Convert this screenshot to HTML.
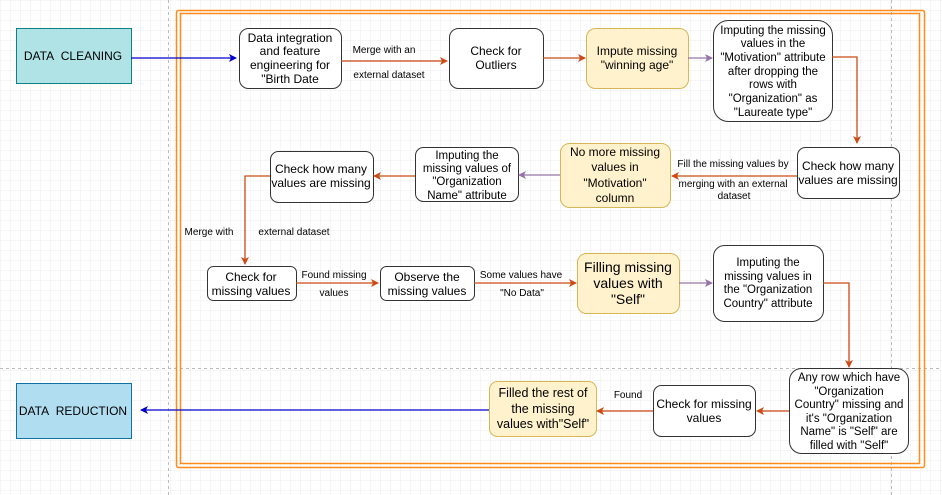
<!DOCTYPE html>
<html><head><meta charset="utf-8">
<style>
html,body{margin:0;padding:0;background:#fff;}
svg{display:block;font-family:"Liberation Sans",Arial,sans-serif;}
</style></head>
<body>
<svg width="942" height="495" viewBox="0 0 942 495" xmlns="http://www.w3.org/2000/svg">
<defs>
<pattern id="g" width="10" height="10" patternUnits="userSpaceOnUse">
<path d="M10 0H0V10" fill="none" stroke="#ececec" stroke-width="1"/>
</pattern>
<marker id="ao" markerWidth="8" markerHeight="8" refX="7" refY="4" orient="auto" markerUnits="userSpaceOnUse"><path d="M0,0 L8,4 L0,8 L2,4z" fill="#cc4a14"/></marker>
<marker id="ap" markerWidth="8" markerHeight="8" refX="7" refY="4" orient="auto" markerUnits="userSpaceOnUse"><path d="M0,0 L8,4 L0,8 L2,4z" fill="#9673a6"/></marker>
<marker id="ab" markerWidth="8" markerHeight="8" refX="7" refY="4" orient="auto" markerUnits="userSpaceOnUse"><path d="M0,0 L8,4 L0,8 L2,4z" fill="#0000cc"/></marker>
</defs>
<rect width="942" height="495" fill="url(#g)"/>
<line x1="168.5" y1="0" x2="168.5" y2="495" stroke="#bbb" stroke-dasharray="3,3"/>
<line x1="891.5" y1="0" x2="891.5" y2="495" stroke="#bbb" stroke-dasharray="3,3"/>
<line x1="0" y1="368.5" x2="942" y2="368.5" stroke="#bbb" stroke-dasharray="3,3"/>
<rect x="176.5" y="10.5" width="748" height="457" fill="none" stroke="#ff8c1a" stroke-width="1.5" rx="2"/>
<rect x="180.5" y="13.5" width="739" height="450" fill="none" stroke="#ff8c1a" stroke-width="1.5"/>

<g font-size="12" fill="#000" text-anchor="middle">
<rect x="16.5" y="28.5" width="115" height="55" fill="#b0e3e6" stroke="#0e8088"/>
<text x="73" y="60">DATA&#160; CLEANING</text>
<rect x="16.5" y="383.5" width="115" height="55" fill="#b1ddf0" stroke="#10739e"/>
<text x="73" y="415">DATA&#160; REDUCTION</text>

<g stroke="#333" stroke-width="1">
<rect x="239.5" y="28.5" width="102" height="60" rx="9" fill="#fff"/>
<rect x="449.5" y="28.5" width="94" height="60" rx="9" fill="#fff"/>
<rect x="586.5" y="28.5" width="102" height="60" rx="9" fill="#fff2cc" stroke="#d6b656"/>
<rect x="713.5" y="20.5" width="119" height="101" rx="15" fill="#fff"/>
<rect x="797.5" y="147.5" width="102" height="51" rx="8" fill="#fff"/>
<rect x="560.5" y="143.5" width="110" height="64" rx="9" fill="#fff2cc" stroke="#d6b656"/>
<rect x="415.5" y="147.5" width="103" height="54" rx="8" fill="#fff"/>
<rect x="270.5" y="151.5" width="103" height="51" rx="8" fill="#fff"/>
<rect x="207.5" y="266.5" width="89" height="34" rx="6" fill="#fff"/>
<rect x="380.5" y="266.5" width="94" height="34" rx="6" fill="#fff"/>
<rect x="577.5" y="253.5" width="102" height="60" rx="9" fill="#fff2cc" stroke="#d6b656"/>
<rect x="713.5" y="245.5" width="110" height="76" rx="11" fill="#fff"/>
<rect x="789.5" y="368.5" width="119" height="85" rx="12" fill="#fff"/>
<rect x="653.5" y="385.5" width="102" height="51" rx="8" fill="#fff"/>
<rect x="489.5" y="381.5" width="107" height="55" rx="8" fill="#fff2cc" stroke="#d6b656"/>
</g>

<text x="290" y="42">Data integration</text>
<text x="290" y="55">and feature</text>
<text x="290" y="69">engineering for</text>
<text x="290" y="83">"Birth Date</text>
<text x="496" y="55">Check for</text>
<text x="496" y="69">Outliers</text>
<text x="637" y="55">Impute missing</text>
<text x="637" y="69">"winning age"</text>
<g font-size="11.5">
<text x="773" y="34">Imputing the missing</text>
<text x="773" y="47">values in the</text>
<text x="773" y="61">"Motivation" attribute</text>
<text x="773" y="75">after dropping the</text>
<text x="773" y="88">rows with</text>
<text x="773" y="102">"Organization" as</text>
<text x="773" y="116">"Laureate type"</text>
</g>
<text x="848" y="170">Check how many</text>
<text x="848" y="184">values are missing</text>
<text x="615" y="156">No more missing</text>
<text x="615" y="171">values in</text>
<text x="615" y="187">"Motivation"</text>
<text x="615" y="202">column</text>
<g font-size="11.5">
<text x="467" y="159">Imputing the</text>
<text x="467" y="172">missing values of</text>
<text x="467" y="185">"Organization</text>
<text x="467" y="199">Name" attribute</text>
</g>
<text x="321" y="173">Check how many</text>
<text x="321" y="187">values are missing</text>
<text x="251" y="281">Check for</text>
<text x="251" y="295">missing values</text>
<text x="427" y="281">Observe the</text>
<text x="427" y="295">missing values</text>
<g font-size="14">
<text x="628" y="272">Filling missing</text>
<text x="628" y="288">values with</text>
<text x="628" y="304">"Self"</text>
</g>
<g font-size="11.5">
<text x="768" y="266">Imputing the</text>
<text x="768" y="280">missing values in</text>
<text x="768" y="293">the "Organization</text>
<text x="768" y="307">Country" attribute</text>
<text x="849" y="381">Any row which have</text>
<text x="849" y="395">"Organization</text>
<text x="849" y="408">Country" missing and</text>
<text x="849" y="422">it's "Organization</text>
<text x="849" y="435">Name" is "Self" are</text>
<text x="849" y="449">filled with "Self"</text>
</g>
<text x="704" y="408">Check for missing</text>
<text x="704" y="422">values</text>
<g font-size="12.5">
<text x="543" y="397">Filled the rest of</text>
<text x="543" y="413">the missing</text>
<text x="543" y="428">values with"Self"</text>
</g>

<g font-size="10">
<text x="384" y="53">Merge with an</text>
<text x="389" y="78">external dataset</text>
<text x="733" y="167">Fill the missing values by</text>
<text x="733" y="187">merging with an external</text>
<text x="734" y="199">dataset</text>
<text x="209" y="235">Merge with</text>
<text x="294" y="235">external dataset</text>
<text x="334" y="278">Found missing</text>
<text x="334" y="296">values</text>
<text x="521" y="278">Some values have</text>
<text x="522" y="296">"No Data"</text>
<text x="628" y="398">Found</text>
</g>
</g>

<g fill="none" stroke-width="1.3">
<line x1="131" y1="58" x2="236" y2="58" stroke="#0000cc" marker-end="url(#ab)"/>
<line x1="489" y1="410" x2="141" y2="410" stroke="#0000cc" marker-end="url(#ab)"/>
<line x1="341" y1="61" x2="447" y2="61" stroke="#cc4a14" marker-end="url(#ao)"/>
<line x1="543" y1="58" x2="585" y2="58" stroke="#cc4a14" marker-end="url(#ao)"/>
<line x1="688" y1="58" x2="712" y2="58" stroke="#9673a6" marker-end="url(#ap)"/>
<polyline points="832,57 857,57 857,143" stroke="#cc4a14" marker-end="url(#ao)"/>
<line x1="797" y1="176" x2="672" y2="176" stroke="#cc4a14" marker-end="url(#ao)"/>
<line x1="560" y1="175" x2="519" y2="175" stroke="#9673a6" marker-end="url(#ap)"/>
<line x1="415" y1="176" x2="374" y2="176" stroke="#cc4a14" marker-end="url(#ao)"/>
<polyline points="270,176 245,176 245,264" stroke="#cc4a14" marker-end="url(#ao)"/>
<line x1="296" y1="283" x2="378" y2="283" stroke="#cc4a14" marker-end="url(#ao)"/>
<line x1="474" y1="283" x2="576" y2="283" stroke="#cc4a14" marker-end="url(#ao)"/>
<line x1="679" y1="283" x2="712" y2="283" stroke="#9673a6" marker-end="url(#ap)"/>
<polyline points="823,283 849,283 849,367" stroke="#cc4a14" marker-end="url(#ao)"/>
<line x1="789" y1="411" x2="757" y2="411" stroke="#cc4a14" marker-end="url(#ao)"/>
<line x1="653" y1="411" x2="597" y2="411" stroke="#cc4a14" marker-end="url(#ao)"/>
</g>
</svg>
</body></html>
